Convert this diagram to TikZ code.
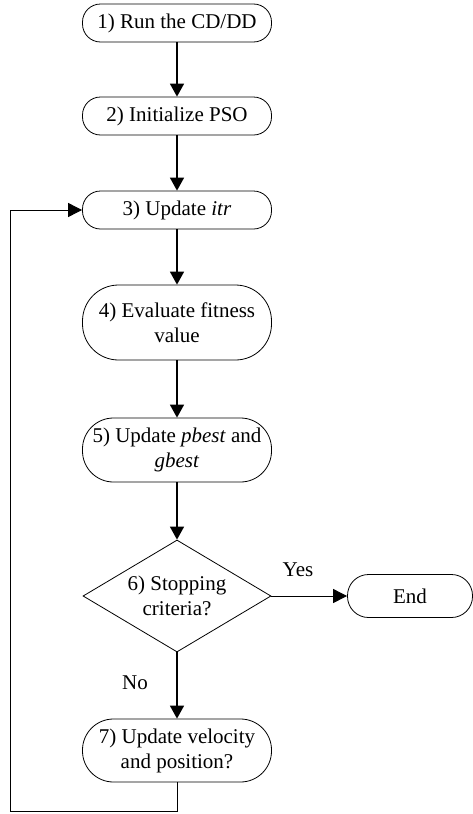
\documentclass[tikz,border=0pt]{standalone}
\usepackage{fontspec}
\setmainfont{Liberation Serif}
\usetikzlibrary{arrows.meta,shapes.geometric}

\tikzset{
  proc/.style={draw, rectangle, rounded corners=18pt, line width=0.8pt,
    minimum width=189pt, minimum height=38pt, align=center, inner sep=2pt},
  decide/.style={draw, diamond, aspect=1.68, line width=0.8pt, inner sep=0pt,
    minimum width=188pt, minimum height=112pt, align=center},
  flow/.style={-{Triangle[length=13pt,width=14pt]}, line width=1.6pt},
  back/.style={-{Triangle[length=14pt,width=14pt]}, line width=0.9pt},
}

\begin{document}
\begin{tikzpicture}[x=1pt,y=-1pt,font=\fontsize{21}{25}\selectfont]
        \useasboundingbox (0,0) rectangle (473,814);
        \node[proc] (n1) at (177,23) {1) Run the CD/DD};
        \node[proc] (n2) at (177,116) {2) Initialize PSO};
        \node[proc] (n3) at (177,210) {3) Update \textit{itr}};
        \node[proc, rounded corners=36pt, minimum height=75pt] (n4) at (177,322.5) {4) Evaluate fitness\\value};
        \node[proc, rounded corners=31pt, minimum height=64pt] (n5) at (177,450) {5) Update \textit{pbest} and\\\textit{gbest}};
        \node[decide] (n6) at (177,596) {6) Stopping\\criteria?};
        \node[proc, rounded corners=21pt, minimum width=125pt, minimum height=43pt] (end) at (410,596) {End};
        \node[proc, rounded corners=31pt, minimum height=63pt] (n7) at (177,750.5) {7) Update velocity\\and position?};
        \node (yes) at (298,570) {Yes};
        \node (no) at (135,683) {No};
        \coordinate (loopbot) at (10,811);
        \draw[flow] (n1) -- (n2);
        \draw[flow] (n2) -- (n3);
        \draw[flow] (n3) -- (n4);
        \draw[flow] (n4) -- (n5);
        \draw[flow] (n5) -- (n6);
        \draw[back] (n6) -- (end);
        \draw[flow] (n6) -- (n7);
        \draw[back] (n7.south) |- (loopbot) |- (n3.west);
    \end{tikzpicture}
\end{document}
